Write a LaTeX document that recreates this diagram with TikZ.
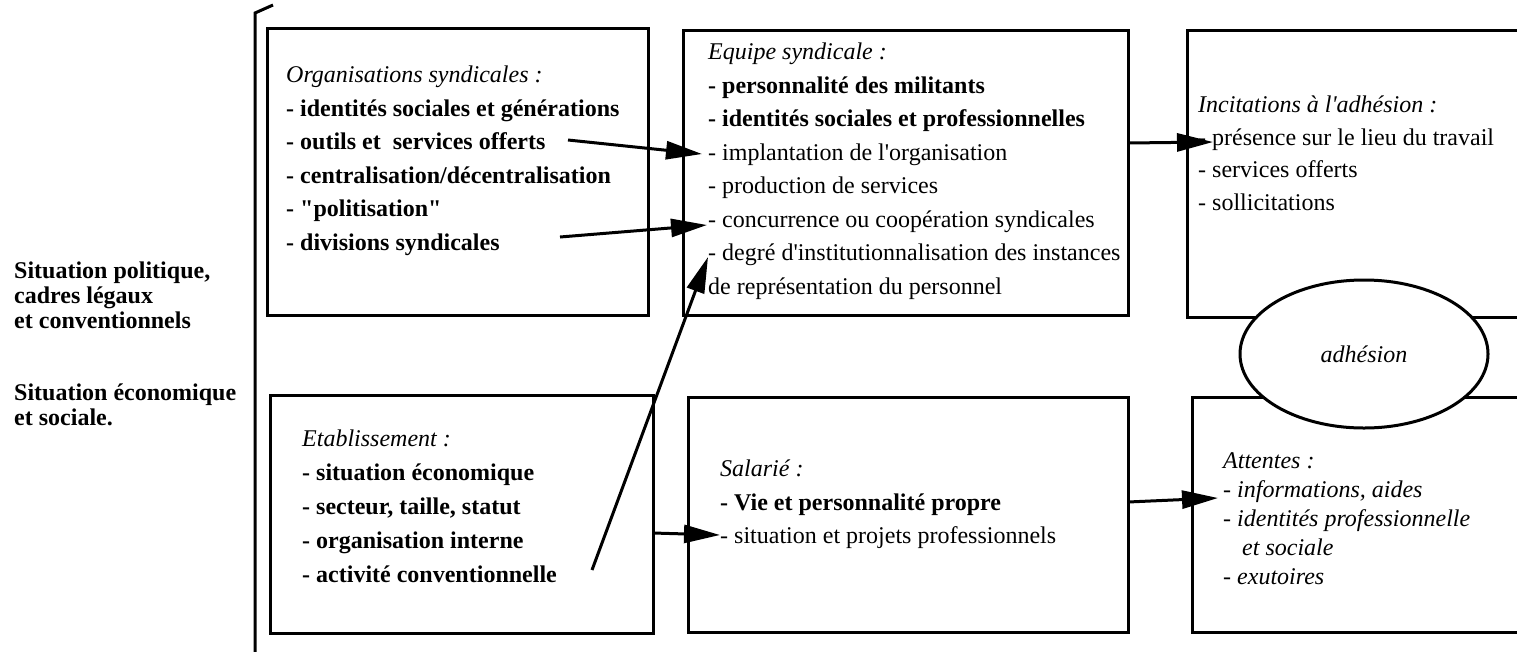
\documentclass[tikz,border=0pt]{standalone}
\usepackage{fontspec}
\setmainfont{Liberation Serif}
\usetikzlibrary{arrows.meta,shapes.geometric}
\begin{document}
\begin{tikzpicture}[x=1pt,y=-1pt,
  frame/.style={draw,line width=3pt,rectangle,inner sep=0pt,outer sep=0pt},
  txt/.style={anchor=north west,inner sep=0pt,align=left,font=\fontsize{24}{33.5}\selectfont},
  link/.style={line width=3pt,-{Triangle[length=36pt,width=18pt]}},
]
\useasboundingbox (0,0) rectangle (1517,651);
\clip (0,0) rectangle (1517,651);
% bracket
\coordinate (brt) at (273,5);
\coordinate (brc) at (255,13);
\coordinate (brb) at (255,660);
\draw[line width=3pt] (brt) -- (brc) -- (brb);
% boxes
\node[frame,minimum width=381pt,minimum height=287pt] (b1) at (457.5,171.5) {};
\node[frame,minimum width=445pt,minimum height=285pt] (b2) at (905.5,172.5) {};
\node[frame,minimum width=353pt,minimum height=287pt] (b3) at (1363.5,173.5) {};
\node[frame,minimum width=383pt,minimum height=238pt] (b4) at (461.5,514) {};
\node[frame,minimum width=440pt,minimum height=235pt] (b5) at (908,514.5) {};
\node[frame,minimum width=348pt,minimum height=235pt] (b6) at (1366,514.5) {};
\node[ellipse,draw,line width=3pt,fill=white,inner sep=0pt,minimum width=248pt,minimum height=148pt,font=\fontsize{24}{28}\selectfont\itshape] (adh) at (1364,354) {adhésion};
% left text
\node[txt,font=\fontsize{24}{25}\selectfont\bfseries] (l1) at (14,262) {Situation politique,\\cadres légaux\\et conventionnels};
\node[txt,font=\fontsize{24}{25}\selectfont\bfseries] (l2) at (14,384) {Situation économique\\et sociale.};
% box texts
\node[txt] (t1) at (286,66) {\textit{Organisations syndicales :}\\
\textbf{- identités sociales et générations}\\
\textbf{- outils et \ services offerts}\\
\textbf{- centralisation/décentralisation}\\
\textbf{- \textquotedbl politisation\textquotedbl}\\
\textbf{- divisions syndicales}};
\node[txt] (t2) at (708,43) {\textit{Equipe syndicale :}\\
\textbf{- personnalité des militants}\\
\textbf{- identités sociales et professionnelles}\\
- implantation de l\textquotesingle organisation\\
- production de services\\
- concurrence ou coopération syndicales\\
- degré d\textquotesingle institutionnalisation des instances\\
de représentation du personnel};
\node[txt,font=\fontsize{24}{32.5}\selectfont] (t3) at (1198,96) {\textit{Incitations à l\textquotesingle adhésion :}\\
- présence sur le lieu du travail\\
- services offerts\\
- sollicitations};
\node[txt,font=\fontsize{24}{34}\selectfont] (t4) at (302,430) {\textit{Etablissement :}\\
\textbf{- situation économique}\\
\textbf{- secteur, taille, statut}\\
\textbf{- organisation interne}\\
\textbf{- activité conventionnelle}};
\node[txt] (t5) at (720,460) {\textit{Salarié :}\\
\textbf{- Vie et personnalité propre}\\
- situation et projets professionnels};
\node[txt,font=\fontsize{24}{29}\selectfont\itshape] (t6) at (1223,452) {Attentes :\\
- informations, aides\\
- identités professionnelle\\
\hspace*{19pt}et sociale\\
- exutoires};
% arrows
\coordinate (a1s) at (568,140); \coordinate (a1e) at (702,154);
\coordinate (a2s) at (560,237); \coordinate (a2e) at (707,225);
\coordinate (a3s) at (592,570); \coordinate (a3e) at (708,257);
\coordinate (a4s) at (1128,143); \coordinate (a4e) at (1213,142);
\coordinate (a5s) at (653,533); \coordinate (a5e) at (720,535);
\coordinate (a6s) at (1128,502); \coordinate (a6e) at (1218,498);
\draw[link] (a1s) -- (a1e);
\draw[link] (a2s) -- (a2e);
\draw[link] (a3s) -- (a3e);
\draw[link] (a4s) -- (a4e);
\draw[link] (a5s) -- (a5e);
\draw[link] (a6s) -- (a6e);
\end{tikzpicture}
\end{document}
